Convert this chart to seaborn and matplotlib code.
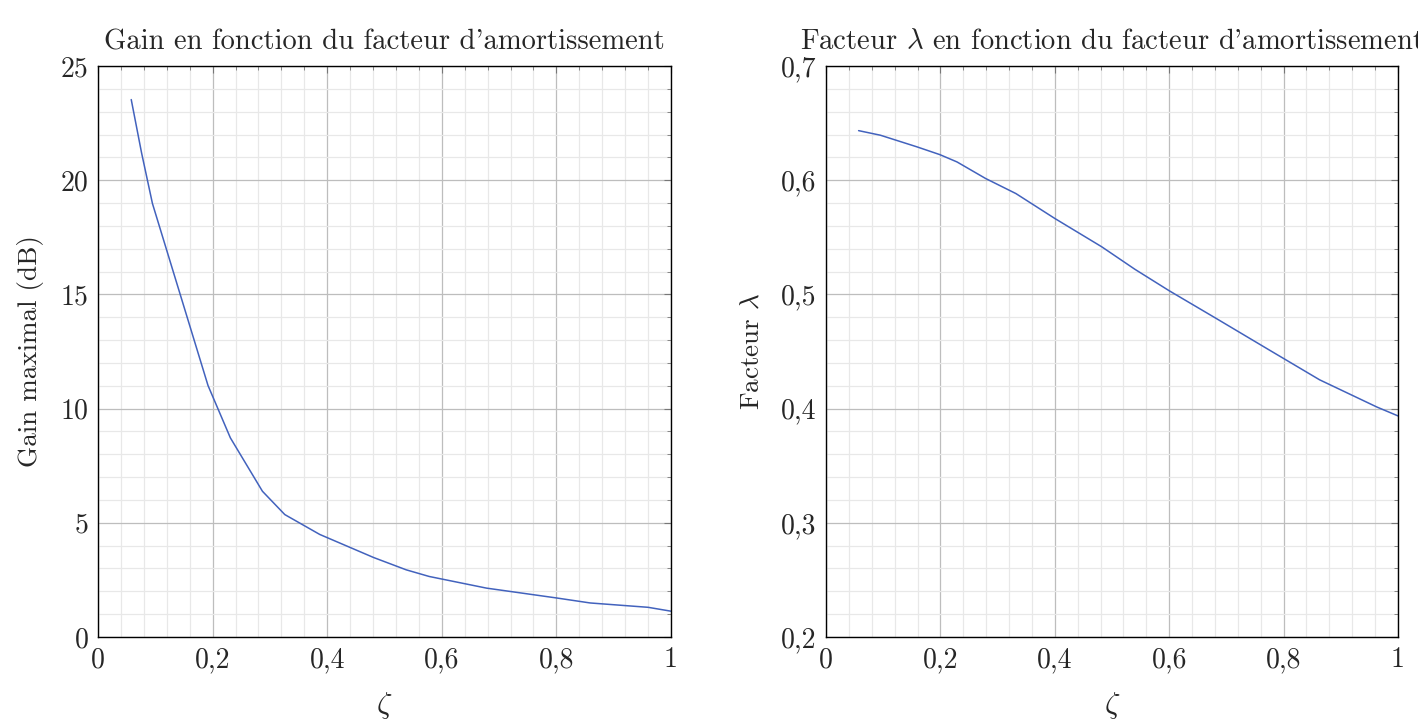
import matplotlib
matplotlib.use("Agg")
import matplotlib.pyplot as plt
from matplotlib.ticker import MultipleLocator, FuncFormatter
import seaborn as sns
import pandas as pd

# Gain maximal (dB) vs zeta
zeta_gain = [0.058, 0.076, 0.095, 0.192, 0.231, 0.287, 0.326, 0.387, 0.481,
             0.538, 0.578, 0.678, 0.800, 0.859, 0.960, 1.0]
gain_db = [23.53, 21.2, 18.98, 11.01, 8.72, 6.38, 5.36, 4.49, 3.48,
           2.94, 2.65, 2.14, 1.71, 1.49, 1.30, 1.13]

# Facteur lambda vs zeta
zeta_lam = [0.057, 0.095, 0.159, 0.199, 0.229, 0.279, 0.332, 0.400, 0.482,
            0.540, 0.600, 0.682, 0.776, 0.863, 0.963, 1.0]
lam = [0.6434, 0.6394, 0.6292, 0.6224, 0.6160, 0.6015, 0.5883, 0.5665, 0.5417,
       0.522, 0.5032, 0.479, 0.451, 0.4252, 0.4014, 0.3936]

sns.set_style("white")
plt.rcParams["font.family"] = "cmr10"
plt.rcParams["mathtext.fontset"] = "cm"
plt.rcParams["axes.formatter.use_mathtext"] = True

line_color = "#4262bd"
fs = 20


def comma(v, pos):
    s = ("%g" % round(v, 6))
    return s.replace(".", ",")


fig = plt.figure(figsize=(14.18, 7.2), dpi=100)
ax1 = fig.add_axes([98 / 1418, 83 / 720, 573 / 1418, 571 / 720])
ax2 = fig.add_axes([826 / 1418, 83 / 720, 572 / 1418, 571 / 720])

df1 = pd.DataFrame({"zeta": zeta_gain, "gain": gain_db})
df2 = pd.DataFrame({"zeta": zeta_lam, "lam": lam})
sns.lineplot(data=df1, x="zeta", y="gain", ax=ax1, color=line_color, lw=1.1)
sns.lineplot(data=df2, x="zeta", y="lam", ax=ax2, color=line_color, lw=1.1)

setups = [
    (ax1, (0, 25), 5, 1, "Gain maximal (dB)",
     "Gain en fonction du facteur d'amortissement"),
    (ax2, (0.2, 0.7), 0.1, 0.02, r"Facteur $\lambda$",
     r"Facteur $\lambda$ en fonction du facteur d'amortissement"),
]
for ax, ylim, ymaj, ymin, ylab, title in setups:
    ax.set_xlim(0, 1)
    ax.set_ylim(*ylim)
    ax.xaxis.set_major_locator(MultipleLocator(0.2))
    ax.xaxis.set_minor_locator(MultipleLocator(0.04))
    ax.yaxis.set_major_locator(MultipleLocator(ymaj))
    ax.yaxis.set_minor_locator(MultipleLocator(ymin))
    ax.xaxis.set_major_formatter(FuncFormatter(comma))
    ax.yaxis.set_major_formatter(FuncFormatter(comma))
    ax.grid(True, which="major", color="#bdbdbd", lw=0.9)
    ax.grid(True, which="minor", color="#e8e8e8", lw=0.9)
    ax.set_axisbelow(True)
    ax.tick_params(which="both", direction="in", top=True, right=True,
                   labelsize=fs, color="#777777")
    ax.tick_params(which="major", length=5, width=0.8, pad=7)
    ax.tick_params(which="minor", length=3, width=0.6)
    for sp in ax.spines.values():
        sp.set_color("black")
        sp.set_linewidth(1.0)
    ax.set_xlabel(r"$\zeta$", fontsize=fs + 2, labelpad=12)
    ax.set_ylabel(ylab, fontsize=fs - 0.5, labelpad=12)
    ax.set_title(title, fontsize=fs + 0.6, pad=12)

fig.savefig("out.png", dpi=100)
